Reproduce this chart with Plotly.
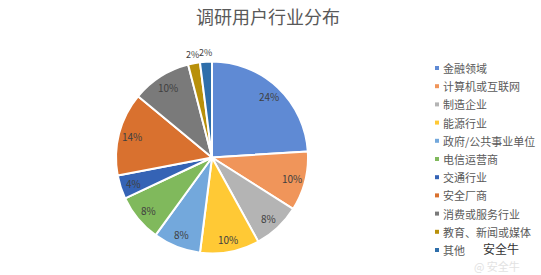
import math
import plotly.graph_objects as go

title = "调研用户行业分布"
categories = ["金融领域", "计算机或互联网", "制造企业", "能源行业", "政府/公共事业单位",
              "电信运营商", "交通行业", "安全厂商", "消费或服务行业", "教育、新闻或媒体", "其他"]
values = [24, 10, 8, 10, 8, 8, 4, 14, 10, 2, 2]
colors = ["#5f8ad4", "#f0955a", "#b4b4b4", "#ffc935", "#73a8dc", "#80b95c",
          "#3563b5", "#d9712f", "#7a7a7a", "#b8900a", "#2e6eaa"]

W, H = 541, 275
cx, cy, r = 212, 157.5, 96

fig = go.Figure()
fig.add_trace(go.Pie(
    labels=categories, values=values, sort=False, direction="clockwise", rotation=0,
    marker=dict(colors=colors, line=dict(color="white", width=2)),
    textinfo="none", showlegend=False, hoverinfo="label+percent",
    domain=dict(x=[(cx - r) / W, (cx + r) / W], y=[(H - cy - r) / H, (H - cy + r) / H]),
))

shapes = []
annotations = [dict(text=title, x=268 / W, y=1 - 16 / H, xref="paper", yref="paper",
                    xanchor="center", yanchor="middle", showarrow=False,
                    font=dict(size=18, color="#595959", family="Noto Sans CJK SC"))]

# data labels placed along each slice's mid-angle
total = sum(values)
cum = 0
for v in values:
    mid = (cum + v / 2) / total * 2 * math.pi
    cum += v
    outside = v <= 2
    d = 105 if outside else 83
    px = cx + d * math.sin(mid)
    py = cy - d * math.cos(mid)
    annotations.append(dict(text=f"{v}%", x=px / W, y=1 - py / H, xref="paper", yref="paper",
                            xanchor="center", yanchor="middle", showarrow=False,
                            font=dict(size=9 if outside else 10, color="#404040",
                                      family="Noto Sans CJK SC")))

for i, (lab, col) in enumerate(zip(categories, colors)):
    yy = 68 + 18.2 * i
    shapes.append(dict(type="rect", xref="paper", yref="paper",
                       x0=435 / W, x1=439 / W, y0=1 - (yy + 2) / H, y1=1 - (yy - 2) / H,
                       fillcolor=col, line=dict(width=0)))
    annotations.append(dict(text=lab, x=441 / W, y=1 - yy / H, xref="paper", yref="paper",
                            xanchor="left", yanchor="middle", showarrow=False,
                            font=dict(size=11, color="#595959", family="Noto Sans CJK SC")))
annotations.append(dict(text="安全牛", x=501 / W, y=1 - 249 / H, xref="paper", yref="paper",
                        xanchor="center", yanchor="middle", showarrow=False,
                        font=dict(size=12, color="#333333", family="Noto Sans CJK SC")))
annotations.append(dict(text="@ 安全牛", x=497 / W, y=1 - 266 / H, xref="paper", yref="paper",
                        xanchor="center", yanchor="middle", showarrow=False,
                        font=dict(size=11, color="#e2e2e2", family="Noto Sans CJK SC")))

fig.update_layout(width=W, height=H, margin=dict(l=0, r=0, t=0, b=0),
                  paper_bgcolor="white", plot_bgcolor="white",
                  shapes=shapes, annotations=annotations)
fig.write_html("out.html")
